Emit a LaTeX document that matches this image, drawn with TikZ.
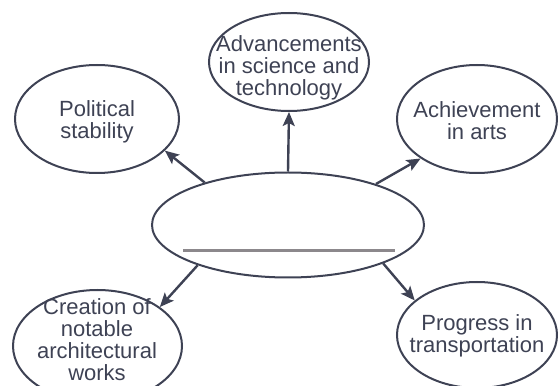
\documentclass[tikz,border=0pt]{standalone}
\usepackage{fontspec}
\setmainfont{Liberation Sans}
\usepackage{tikz}
\usetikzlibrary{shapes.geometric,arrows.meta}

\definecolor{inkblue}{RGB}{62,66,84}
\definecolor{rulegray}{RGB}{140,136,140}

\tikzset{
  bubble/.style={draw=inkblue, line width=1pt, ellipse, inner sep=0pt},
  txt/.style={align=center, text=inkblue, font=\fontsize{11}{11}\selectfont, inner sep=0pt},
  link/.style={draw=inkblue, line width=1.2pt, -{Stealth[length=7pt,width=6pt,inset=1.5pt]}}
}

\begin{document}
\begin{tikzpicture}[x=0.5pt, y=0.5pt]
    \useasboundingbox (0,0) rectangle (558,386);

    % Centre
    \node[bubble, minimum width=136pt, minimum height=52.5pt] (ctr) at (288,161) {};
    \draw[rulegray, line width=1.5pt] (183,135) -- (395,135);

    % Advancements in science and technology
    \node[bubble, minimum width=80pt, minimum height=49pt] (adv) at (289,324) {};
    \node[txt] (advt) at (289,318) {Advancements\\in science and\\technology};

    % Political stability
    \node[bubble, minimum width=82pt, minimum height=54pt] (pol) at (97,267) {};
    \node[txt] (polt) at (97,264) {Political\\stability};

    % Achievement in arts
    \node[bubble, minimum width=80pt, minimum height=54pt] (ach) at (477,267) {};
    \node[txt] (acht) at (477,265) {Achievement\\in arts};

    % Creation of notable architectural works
    \node[bubble, minimum width=84.5pt, minimum height=56pt] (cre) at (97.5,40) {};
    \node[txt] (cret) at (97,46) {Creation of\\notable\\architectural\\works};

    % Progress in transportation
    \node[bubble, minimum width=80pt, minimum height=53pt] (pro) at (477,51) {};
    \node[txt] (prot) at (477,50) {Progress in\\transportation};

    % Connections
    \draw[link] (ctr.153) -- (pol.-25);
    \draw[link] (ctr.north) -- (adv.south);
    \draw[link] (ctr.25) -- (ach.-145);
    \draw[link] (ctr.204) -- (cre.32);
    \draw[link] (ctr.-22) -- (pro.151);

\end{tikzpicture}
\end{document}
